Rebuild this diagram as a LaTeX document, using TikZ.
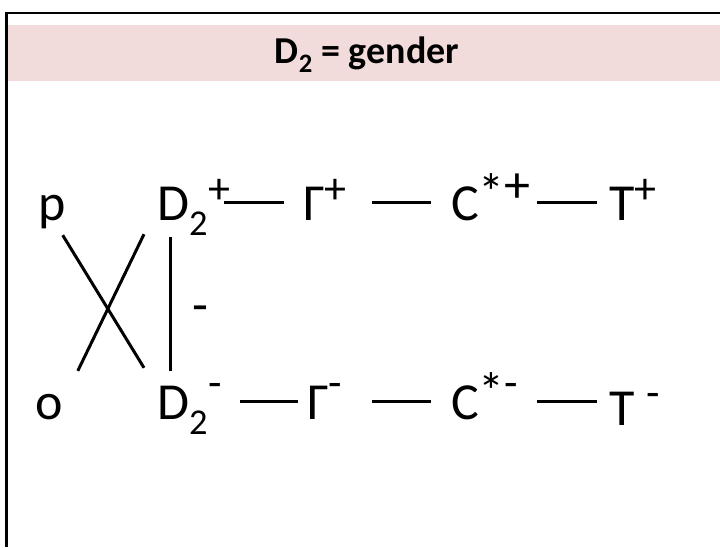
\documentclass[tikz,border=0pt]{standalone}
\usepackage{fontspec}
\setmainfont{Carlito}
\usetikzlibrary{positioning}
\definecolor{bandpink}{HTML}{F2DCDB}

% raised sign after a symbol
\newcommand\rsup[2][17pt]{\raisebox{#1}{\fontsize{44}{50}\selectfont #2}}

\tikzset{
  sym/.style={font=\fontsize{52}{60}\selectfont, inner sep=0pt,
    text height=36pt, text depth=0pt, anchor=base west},
  link/.style={line width=3pt},
}

\begin{document}
\begin{tikzpicture}[x=1pt, y=-1pt]
  \useasboundingbox (0,0) rectangle (720,547);
  % frame and header band
  \fill[bandpink] (8,25) rectangle (720,81);
  \draw[line width=2.5pt] (6.5,547) -- (6.5,13) -- (720,13);
  \node[font=\bfseries\fontsize{38}{44}\selectfont, anchor=base] (title) at (367,63.5) {D\textsubscript{2} = gender};

  % left column
  \node[sym] (p) at (38,220) {p};
  \node[sym] (o) at (35,419) {o};

  % top row
  \node[sym] (dp) at (157,220) {D\textsubscript{2}\rsup{+}};
  \node[sym] (gp) at (303,220) {Γ\rsup{+}};
  \node[sym] (cp) at (451,220) {C\raisebox{10pt}{*}\raisebox{18pt}{+}};
  \node[sym] (tp) at (609,220) {T\rsup{+}};

  % bottom row
  \node[sym] (dm) at (157,419) {D\textsubscript{2}\rsup[22pt]{-}};
  \node[sym] (gm) at (307,419) {Γ\rsup[22pt]{-}};
  \node[sym] (cm) at (451,419) {C\raisebox{10pt}{*}\rsup[22pt]{-}};
  \node[sym] (tm) at (609,425) {T \rsup[18pt]{-}};

  % the cross and the vertical link
  \draw[link] ([shift={(-3,15)}]p.south east) -- ([shift={(-13,-15)}]dm.north west);
  \draw[link] ([shift={(15,-12)}]o.north east) -- ([shift={(-13,14)}]dp.south west);
  \draw[link] ([shift={(13,17)}]dp.south west) -- ([shift={(13,-12)}]dm.north west)
    node[midway, right=21pt, yshift=-10pt, font=\fontsize{52}{60}\selectfont, inner sep=0pt] (minus) {-};

  % chains
  \draw[link, shorten <=67pt, shorten >=19pt] (dp.west) -- (gp.west);
  \draw[link, shorten <=69pt, shorten >=20pt] (gp.west) -- (cp.west);
  \draw[link, shorten <=86pt, shorten >=12pt] (cp.west) -- (tp.west);
  \draw[link, shorten <=83pt, shorten >=9pt] (dm.west) -- (gm.west);
  \draw[link, shorten <=65pt, shorten >=20pt] (gm.west) -- (cm.west);
  \draw[link, shorten <=86pt, shorten >=12pt] (cm.west) -- (cm.west -| tm.west);
\end{tikzpicture}
\end{document}
